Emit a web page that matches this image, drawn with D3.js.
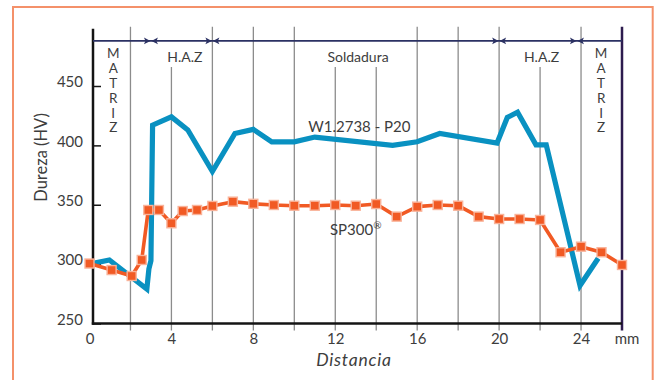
<!DOCTYPE html>
<html>
<head>
<meta charset="utf-8">
<script src="https://cdn.jsdelivr.net/npm/d3@7"></script>
<style>
  html, body { margin: 0; padding: 0; background: #fff; }
  svg { display: block; font-family: Lato, "Open Sans", sans-serif; }
</style>
</head>
<body>
<svg id="chart" width="659" height="380"></svg>
<script>
// Hardness profile across a weld: distance (mm) vs Vickers hardness (HV)

const xTicks = [0, 4, 8, 12, 16, 20, 24];
const yTicks = [250, 300, 350, 400, 450];
const gridValues = [2, 4, 6, 8, 10, 12, 14, 16, 18, 20, 22, 24];
const gridUnderLabels = [4, 12, 14, 22];

// W1.2738 - P20
const w1X = [0, 0.97, 2.8, 2.9, 3.0, 3.08, 4, 4.8, 6, 7.1, 8, 8.9, 10, 11, 14.8, 16, 17.1, 19.9, 20.4, 20.9, 21.8, 22.3, 23.95, 24.84];
const w1Y = [300, 303.5, 279, 296, 303, 417, 424, 413, 378, 410, 413.5, 403, 403, 407, 400, 403, 410, 402, 423.5, 428, 400.5, 400.5, 282, 305];

// SP300
const spX = [0, 1.08, 2.06, 2.55, 2.87, 3.39, 4, 4.55, 5.25, 6, 7, 8, 9, 10, 11, 12, 13, 14, 15, 16, 17, 18, 19, 20, 21, 22, 23, 24, 25, 26];
const spY = [300.5, 295, 290, 303.5, 345.6, 345.6, 334.4, 344.7, 345.6, 349, 352.6, 350.8, 349.8, 349.2, 349.2, 349.8, 349.2, 350.6, 340, 348.4, 349.8, 349.2, 340, 338, 338, 337.2, 310, 314.7, 310, 299.3];

// Zones along the specimen
const zoneBounds = [3, 6, 20, 23.8];
const zoneLabels = ["H.A.Z", "Soldadura", "H.A.Z"];
const zoneLabelX = [4.66, 13.11, 22.07];
const matrixLabel = "MATRIZ";
const matrixX = [1.16, 24.98];

const seriesNames = ["W1.2738 - P20", "SP300"];

// ---- layout ----
const svg = d3.select("#chart");
const x = d3.scaleLinear().domain([0, 26]).range([89.5, 622]);
const y = d3.scaleLinear().domain([250, 450]).range([323.5, 86]);
const axisX = 93;
const gridTop = 500, gridShortTop = 466, bandLevel = 488;
const tickDrop = 7;
const textColor = "#3d3d3d";

// outer frame
svg.append("rect")
  .attr("x", 13).attr("y", 7).attr("width", 639.7).attr("height", 420)
  .attr("fill", "none").attr("stroke", "#f4916a").attr("stroke-width", 2);

// vertical grid
svg.append("g").selectAll("line").data(gridValues).join("line")
  .attr("x1", d => x(d)).attr("x2", d => x(d))
  .attr("y1", d => y(gridUnderLabels.includes(d) ? gridShortTop : gridTop))
  .attr("y2", y(250) + tickDrop)
  .attr("stroke", "#8c8c8c").attr("stroke-width", 1.3);

// right boundary
svg.append("line")
  .attr("x1", x(26)).attr("x2", x(26))
  .attr("y1", y(gridTop)).attr("y2", y(250) + tickDrop)
  .attr("stroke", "#2d1b4e").attr("stroke-width", 2.5);

// axes lines
svg.append("line")
  .attr("x1", axisX).attr("x2", axisX)
  .attr("y1", y(gridTop) + 2).attr("y2", y(250) + 1.2)
  .attr("stroke", "#141414").attr("stroke-width", 2.5);
svg.append("line")
  .attr("x1", axisX - 1.2).attr("x2", x(26))
  .attr("y1", y(250)).attr("y2", y(250))
  .attr("stroke", "#141414").attr("stroke-width", 2.5);

// y axis ticks + labels
const yAxis = svg.append("g")
  .attr("transform", `translate(${axisX},0)`)
  .call(d3.axisLeft(y).tickValues(yTicks).tickSizeInner(-8).tickSizeOuter(0).tickPadding(10));
yAxis.select(".domain").remove();
yAxis.selectAll("line").attr("stroke", "#141414").attr("stroke-width", 1.5);
yAxis.selectAll("text")
  .attr("dy", "0.05em")
  .attr("fill", textColor).style("font-size", "15px").style("font-family", "Lato, sans-serif");

// x axis labels
const xAxis = svg.append("g")
  .attr("transform", `translate(0,${y(250)})`)
  .call(d3.axisBottom(x).tickValues(xTicks).tickSize(0).tickPadding(10));
xAxis.select(".domain").remove();
xAxis.selectAll("text")
  .attr("fill", textColor).style("font-size", "15px").style("font-family", "Lato, sans-serif");

svg.append("text")
  .attr("x", 627).attr("y", 344).attr("text-anchor", "middle")
  .attr("fill", textColor).style("font-size", "15px")
  .text("mm");

// axis titles
svg.append("text")
  .attr("x", 354).attr("y", 366).attr("text-anchor", "middle")
  .attr("fill", textColor).style("font-size", "17.5px").style("font-style", "italic")
  .style("letter-spacing", "0.8px")
  .text("Distancia");
svg.append("text")
  .attr("transform", "translate(46.5,157.5) rotate(-90)")
  .attr("text-anchor", "middle")
  .attr("fill", textColor).style("font-size", "16.5px")
  .text("Dureza (HV)");

// zone band with arrowheads
const bandY = y(bandLevel);
const navy = "#2b3163";
svg.append("line")
  .attr("x1", axisX).attr("x2", x(26))
  .attr("y1", bandY).attr("y2", bandY)
  .attr("stroke", navy).attr("stroke-width", 1.6);

const headR = (bx) => `M${bx},${bandY} L${bx - 6.5},${bandY - 3.4} L${bx - 5},${bandY} L${bx - 6.5},${bandY + 3.4} Z`;
const headL = (bx) => `M${bx},${bandY} L${bx + 6.5},${bandY - 3.4} L${bx + 5},${bandY} L${bx + 6.5},${bandY + 3.4} Z`;
const heads = svg.append("g").attr("fill", navy);
zoneBounds.forEach(b => {
  heads.append("path").attr("d", headR(x(b) - 0.5));
  heads.append("path").attr("d", headL(x(b) + 0.5));
});

// zone labels
svg.append("g").selectAll("text").data(zoneLabels).join("text")
  .attr("x", (d, i) => x(zoneLabelX[i]))
  .attr("y", 61.6)
  .attr("text-anchor", "middle")
  .attr("fill", textColor).style("font-size", "14px")
  .text(d => d);

// MATRIZ, stacked letters
matrixX.forEach(mx => {
  svg.append("g").selectAll("text").data(matrixLabel.split("")).join("text")
    .attr("x", x(mx))
    .attr("y", (d, i) => 58.3 + i * 14.8)
    .attr("text-anchor", "middle")
    .attr("fill", textColor).style("font-size", "13.5px")
    .text(d => d);
});

// series
const line = d3.line().x(d => x(d[0])).y(d => y(d[1]));
const w1 = w1X.map((v, i) => [v, w1Y[i]]);
const sp = spX.map((v, i) => [v, spY[i]]);

svg.append("path")
  .attr("d", line(w1))
  .attr("fill", "none").attr("stroke", "#0991c1").attr("stroke-width", 5.2)
  .attr("stroke-linejoin", "miter").attr("stroke-miterlimit", 10);

svg.append("path")
  .attr("d", line(sp))
  .attr("fill", "none").attr("stroke", "#f15a24").attr("stroke-width", 3.6)
  .attr("stroke-linejoin", "round");

const ms = 9;
svg.append("g").selectAll("rect").data(sp).join("rect")
  .attr("x", d => x(d[0]) - ms / 2).attr("y", d => y(d[1]) - ms / 2)
  .attr("width", ms).attr("height", ms)
  .attr("fill", "#f15a24").attr("stroke", "#f9b39a").attr("stroke-width", 1.4);

// series labels
svg.append("text")
  .attr("x", x(10.68)).attr("y", y(411.5))
  .attr("fill", textColor).style("font-size", "15px")
  .text(seriesNames[0]);
const spLabel = svg.append("text")
  .attr("x", x(11.74)).attr("y", y(324.5))
  .attr("fill", textColor).style("font-size", "15px");
spLabel.append("tspan").text(seriesNames[1]);
spLabel.append("tspan").attr("dy", "-6").style("font-size", "10px").text("®");
</script>
</body>
</html>
